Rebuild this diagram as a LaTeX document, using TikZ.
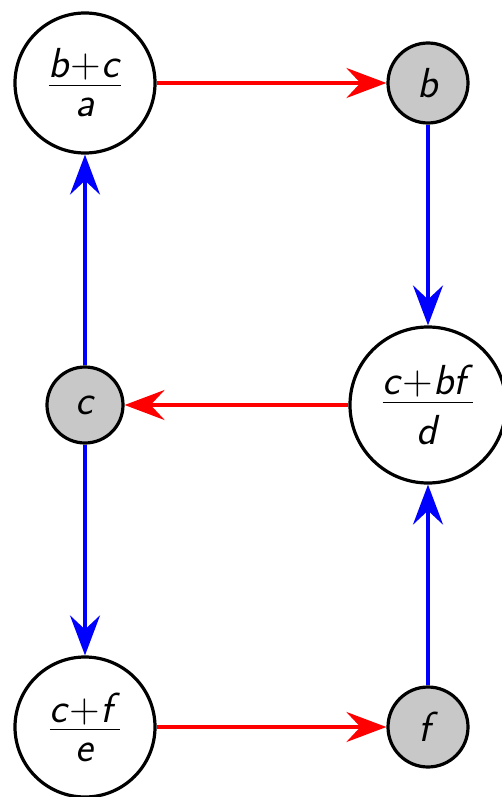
\documentclass[tikz,border=0pt]{standalone}
\usetikzlibrary{arrows.meta}
\definecolor{nodegray}{RGB}{200,200,200}
\newcommand\sfv[1]{\textsf{\itshape #1}}
\newcommand\sfp{\textsf{+}}
\newcommand\myfrac[2]{\vbox{\halign{\hfil##\hfil\cr #1\cr\noalign{\kern2pt\hrule height 0.8pt\kern6pt}#2\cr}}}
\tikzset{
  bignode/.style={circle,draw=black,line width=1.6pt,fill=white,inner sep=0pt,font=\fontsize{21}{24}\selectfont},
  smallnode/.style={circle,draw=black,line width=1.6pt,fill=nodegray,inner sep=0pt,minimum size=40pt,font=\fontsize{21}{24}\selectfont},
  redarrow/.style={draw=red,line width=1.6pt,-{Stealth[length=20pt,width=15pt,inset=7pt,fill=red]}},
  bluearrow/.style={draw=blue,line width=1.6pt,-{Stealth[length=20pt,width=15pt,inset=7pt,fill=blue]}},
}
\begin{document}
\begin{tikzpicture}[x=0.5pt,y=-0.5pt]
\useasboundingbox (0,0) rectangle (502,797);
\node[bignode,minimum size=70pt] (a) at (85,83) {\myfrac{\sfv{b}\sfp\sfv{c}}{\sfv{a}}};
\node[smallnode] (b) at (428,83) {\sfv{b}};
\node[smallnode,minimum size=38pt] (c) at (85,405) {\sfv{c}};
\node[bignode,minimum size=78pt] (d) at (428,405) {\myfrac{\sfv{c}\sfp\sfv{bf}}{\sfv{d}}};
\node[bignode,minimum size=70pt] (e) at (85,727) {\myfrac{\sfv{c}\sfp\sfv{f}}{\sfv{e}}};
\node[smallnode] (f) at (428,727) {\sfv{f}};
\draw[redarrow] (a) -- (b);
\draw[bluearrow] (b) -- (d);
\draw[redarrow] (d) -- (c);
\draw[bluearrow] (c) -- (a);
\draw[bluearrow] (c) -- (e);
\draw[redarrow] (e) -- (f);
\draw[bluearrow] (f) -- (d);
\end{tikzpicture}
\end{document}
